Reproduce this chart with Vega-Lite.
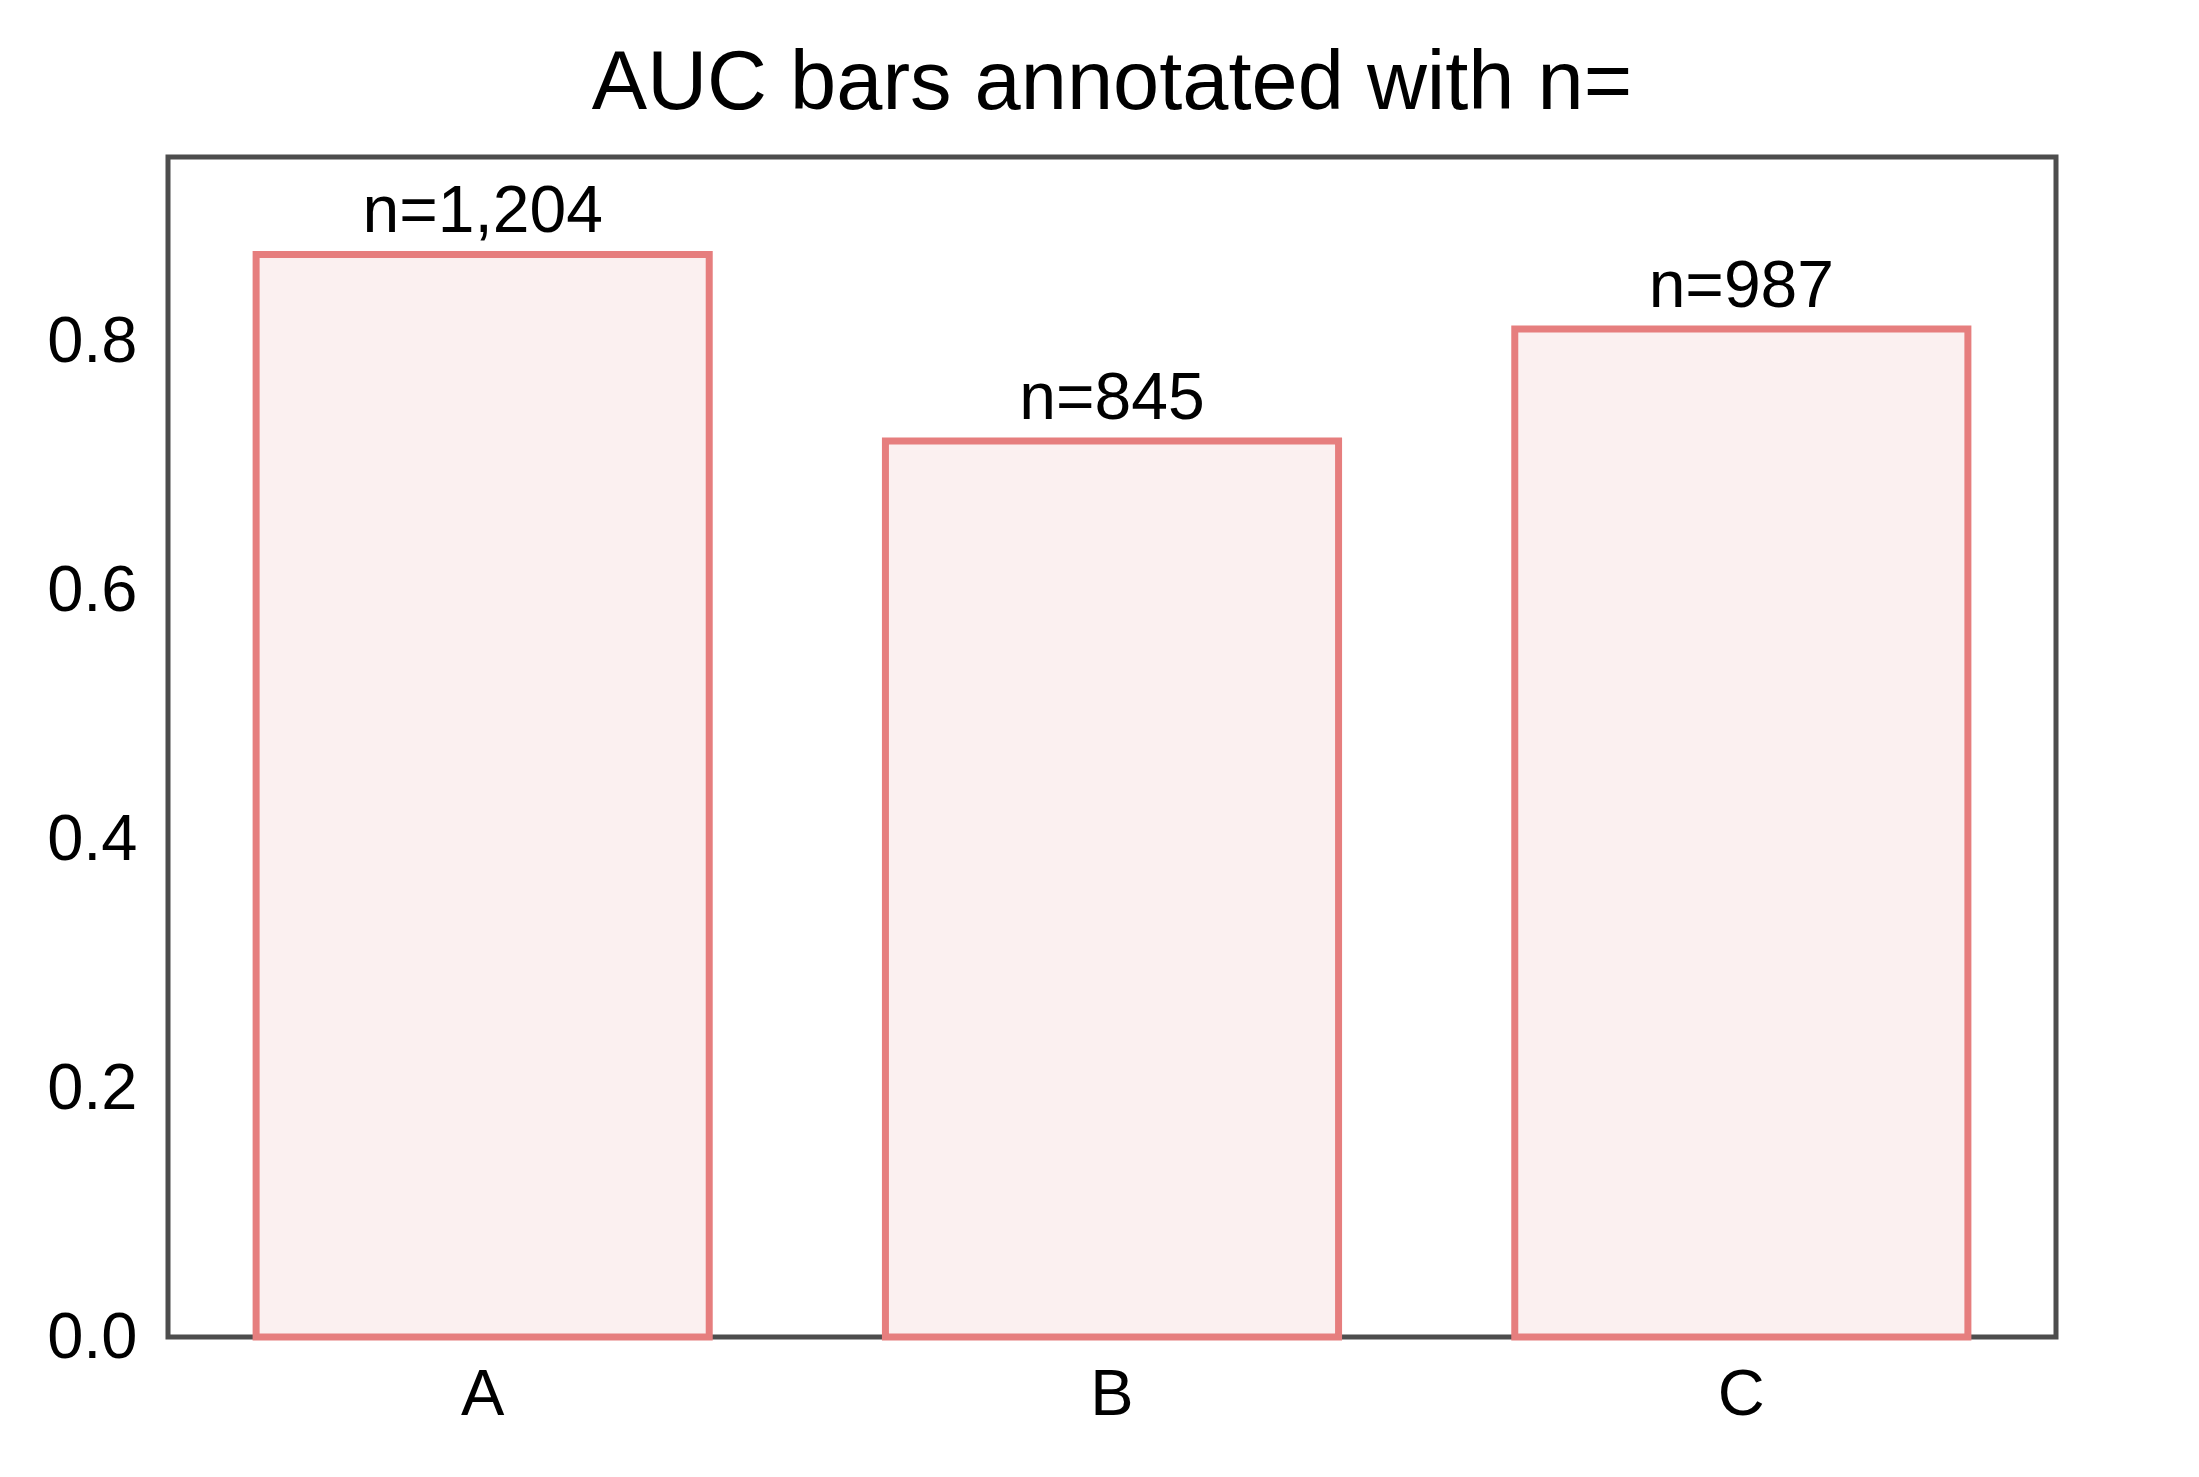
{
  "$schema": "https://vega.github.io/schema/vega-lite/v6.json",
  "autosize": "none",
  "padding": {"left": 168, "top": 157, "right": 143, "bottom": 140},
  "width": 1888,
  "height": 1180,
  "background": "white",
  "title": {
    "text": "AUC bars annotated with n=",
    "anchor": "middle",
    "font": "Liberation Sans",
    "fontSize": 83,
    "fontWeight": "normal",
    "color": "black",
    "baseline": "alphabetic",
    "offset": 30,
    "dy": 65
  },
  "data": {
    "values": [
      {"group": "A", "auc": 0.87, "n": 1204, "label": "n=1,204"},
      {"group": "B", "auc": 0.72, "n": 845, "label": "n=845"},
      {"group": "C", "auc": 0.81, "n": 987, "label": "n=987"}
    ]
  },
  "encoding": {
    "x": {
      "field": "group",
      "type": "nominal",
      "title": null,
      "scale": {"paddingInner": 0.28, "paddingOuter": 0.14},
      "axis": {"labelAngle": 0, "labelPadding": 26}
    },
    "y": {
      "field": "auc",
      "type": "quantitative",
      "title": null,
      "scale": {"domain": [0, 0.9483], "nice": false},
      "axis": {"values": [0, 0.2, 0.4, 0.6, 0.8], "format": ".1f", "labelPadding": 31}
    }
  },
  "layer": [
    {
      "mark": {"type": "bar", "fill": "#fbf0f0", "stroke": "#e67e7e", "strokeWidth": 7}
    },
    {
      "mark": {"type": "text", "baseline": "alphabetic", "dy": -22, "fontSize": 66, "font": "Liberation Sans", "color": "black"},
      "encoding": {"text": {"field": "label", "type": "nominal"}}
    }
  ],
  "config": {
    "view": {"stroke": "#4d4d4d", "strokeWidth": 5},
    "axis": {
      "domain": false,
      "ticks": false,
      "grid": false,
      "labelFont": "Liberation Sans",
      "labelFontSize": 65,
      "labelColor": "black"
    }
  }
}
